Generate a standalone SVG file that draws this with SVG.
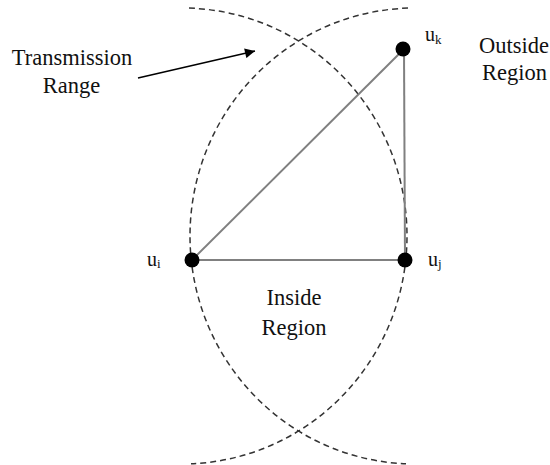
<svg xmlns="http://www.w3.org/2000/svg" width="550" height="465" viewBox="0 0 550 465">
<style>
.range{fill:none;stroke:#333;stroke-width:1.5;stroke-dasharray:6 4}
.edge{stroke:#808080;stroke-width:2;fill:none}
.dot{fill:#000}
.lbl{font-family:"Liberation Serif","Times New Roman",serif;font-size:22.5px;fill:#111;text-anchor:middle}
.u{font-family:"Liberation Serif","Times New Roman",serif;font-size:20px;fill:#111}
.sub{font-size:13px}
</style>
<defs>
<marker id="ah" viewBox="0 0 10 10" refX="10" refY="5" markerWidth="12" markerHeight="10" markerUnits="userSpaceOnUse" orient="auto">
<path d="M0,0 L10,5 L0,10 z" fill="#000"/>
</marker>
</defs>
<g id="ranges">
<path class="range" d="M189,8.1 A225,228 0 0 1 407,236 A225,228 0 0 1 191,463.8"/>
<path class="range" d="M408,8.1 A225,228 0 0 0 190,236 A225,228 0 0 0 406,463.8"/>
</g>
<g id="connectors">
<line class="edge" x1="192" y1="260" x2="405" y2="260"/>
<line class="edge" x1="192" y1="260" x2="404" y2="49"/>
<line class="edge" x1="405" y1="260" x2="404" y2="49"/>
<line x1="138" y1="78" x2="255" y2="51" stroke="#000" stroke-width="1.5" marker-end="url(#ah)"/>
</g>
<g id="node-ui"><circle class="dot" cx="192" cy="260" r="7.5"/><text class="u" x="147" y="266">u<tspan class="sub" dy="2">i</tspan></text></g>
<g id="node-uj"><circle class="dot" cx="405" cy="260" r="7.5"/><text class="u" x="428" y="266">u<tspan class="sub" dy="2">j</tspan></text></g>
<g id="node-uk"><circle class="dot" cx="403" cy="49" r="7.5"/><text class="u" x="425" y="41">u<tspan class="sub" dy="3">k</tspan></text></g>
<g id="label-transmission"><text class="lbl" x="72" y="65">Transmission</text><text class="lbl" x="71.5" y="93">Range</text></g>
<g id="label-outside"><text class="lbl" x="514" y="53">Outside</text><text class="lbl" x="514.5" y="80">Region</text></g>
<g id="label-inside"><text class="lbl" x="294" y="305">Inside</text><text class="lbl" x="294" y="335">Region</text></g>
</svg>
